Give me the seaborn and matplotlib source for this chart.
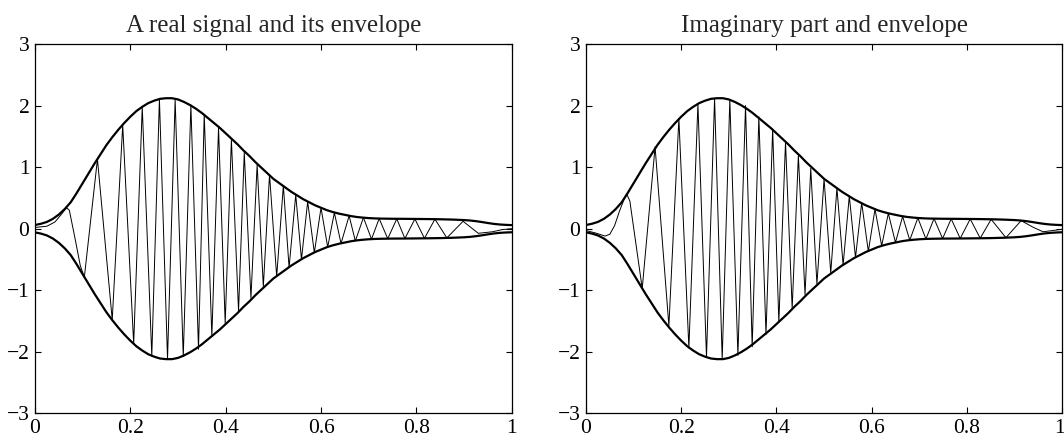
import pandas as pd
import seaborn as sns
import matplotlib.pyplot as plt
from matplotlib.transforms import ScaledTranslation

# envelope |analytic signal|
env_t = [0.0, 0.0125, 0.025, 0.0375, 0.05, 0.0625, 0.075, 0.0875, 0.1, 0.1125,
         0.125, 0.1375, 0.15, 0.1625, 0.175, 0.1875, 0.2, 0.2125, 0.225, 0.2375,
         0.25, 0.2625, 0.275, 0.2875, 0.3, 0.3125, 0.325, 0.3375, 0.35, 0.3625,
         0.375, 0.3875, 0.4, 0.4125, 0.425, 0.4375, 0.45, 0.4625, 0.475, 0.4875,
         0.5, 0.5125, 0.525, 0.5375, 0.55, 0.5625, 0.575, 0.5875, 0.6, 0.6125,
         0.625, 0.6375, 0.65, 0.6625, 0.675, 0.6875, 0.7, 0.7125, 0.725, 0.75,
         0.775, 0.8, 0.825, 0.85, 0.875, 0.9, 0.9125, 0.925, 0.9375, 0.95,
         0.9625, 0.975, 0.9875, 1.0]
env_v = [0.06, 0.08, 0.11, 0.16, 0.23, 0.32, 0.43, 0.58, 0.74, 0.90,
         1.06, 1.21, 1.36, 1.49, 1.61, 1.72, 1.82, 1.91, 1.98, 2.04,
         2.08, 2.11, 2.12, 2.12, 2.10, 2.06, 2.01, 1.95, 1.88, 1.80,
         1.72, 1.64, 1.55, 1.46, 1.37, 1.27, 1.18, 1.08, 0.99, 0.90,
         0.81, 0.74, 0.67, 0.60, 0.54, 0.48, 0.43, 0.38, 0.34, 0.30,
         0.27, 0.245, 0.225, 0.205, 0.19, 0.18, 0.172, 0.167, 0.164, 0.161,
         0.160, 0.158, 0.156, 0.153, 0.148, 0.14, 0.133, 0.122, 0.108, 0.092,
         0.078, 0.068, 0.062, 0.058]

# real part (extrema of the sampled signal)
re_t = [0.0, 0.025, 0.042, 0.056, 0.066, 0.072, 0.084, 0.095, 0.1035, 0.131, 0.162,
        0.184, 0.207, 0.225, 0.245, 0.261, 0.278, 0.294, 0.311, 0.327, 0.343, 0.355,
        0.371, 0.385, 0.399, 0.412, 0.427, 0.439, 0.453, 0.466, 0.479, 0.492, 0.507,
        0.521, 0.533, 0.547, 0.559, 0.572, 0.586, 0.600, 0.614, 0.628, 0.642, 0.659,
        0.672, 0.689, 0.706, 0.722, 0.740, 0.759, 0.776, 0.797, 0.817, 0.839, 0.864,
        0.898, 0.930, 0.960, 0.980, 1.0]
re_v = [0.02, 0.04, 0.11, 0.24, 0.34, 0.30, -0.16, -0.60, -0.79, 1.13, -1.48,
        1.68, -1.87, 1.98, -2.07, 2.11, -2.12, 2.10, -2.08, 2.01, -1.96, 1.86,
        -1.75, 1.64, -1.54, 1.45, -1.34, 1.24, -1.13, 1.04, -0.94, 0.88, -0.78,
        0.70, -0.63, 0.55, -0.50, 0.44, -0.39, 0.34, -0.30, 0.26, -0.24, 0.21,
        -0.20, 0.18, -0.17, 0.165, -0.163, 0.16, -0.16, 0.158, -0.157, 0.155, -0.15,
        0.12, -0.075, -0.05, -0.015, 0.0]

# imaginary part
im_t = [0.0, 0.02, 0.04, 0.05, 0.06, 0.07, 0.08, 0.0855, 0.092, 0.118, 0.145, 0.174,
        0.195, 0.216, 0.235, 0.253, 0.270, 0.286, 0.302, 0.319, 0.335, 0.349, 0.363,
        0.378, 0.392, 0.405, 0.419, 0.433, 0.446, 0.460, 0.472, 0.485, 0.500, 0.514,
        0.527, 0.540, 0.553, 0.566, 0.579, 0.593, 0.607, 0.621, 0.635, 0.650, 0.665,
        0.680, 0.697, 0.714, 0.731, 0.749, 0.767, 0.786, 0.807, 0.828, 0.851, 0.882,
        0.914, 0.940, 0.960, 0.980, 1.0]
im_v = [-0.03, -0.07, -0.12, -0.09, 0.05, 0.28, 0.48, 0.56, 0.45, -0.97, 1.33, -1.58,
        1.79, -1.94, 2.03, -2.09, 2.12, -2.12, 2.10, -2.06, 2.00, -1.92, 1.82,
        -1.72, 1.62, -1.52, 1.41, -1.30, 1.19, -1.07, 0.98, -0.90, 0.81, -0.72,
        0.66, -0.59, 0.53, -0.47, 0.42, -0.37, 0.32, -0.28, 0.25, -0.225, 0.20,
        -0.187, 0.175, -0.168, 0.164, -0.161, 0.16, -0.159, 0.157, -0.155, 0.152, -0.146,
        0.13, 0.02, -0.05, -0.03, -0.01]

titles = ["A real signal and its envelope", "Imaginary part and envelope"]

sns.set_theme(style="ticks")
plt.rcParams['font.family'] = ['Liberation Serif', 'DejaVu Serif']

fig = plt.figure(figsize=(10.64, 4.38), dpi=100)
ax1 = fig.add_axes([0.0329, 0.0564, 0.448, 0.843])
ax2 = fig.add_axes([0.5508, 0.0564, 0.4474, 0.843])

env = pd.DataFrame({'t': env_t, 'up': env_v, 'lo': [-v for v in env_v]})
sig = [pd.DataFrame({'t': re_t, 'v': re_v}), pd.DataFrame({'t': im_t, 'v': im_v})]

for ax, s, title in zip([ax1, ax2], sig, titles):
    sns.lineplot(data=s, x='t', y='v', ax=ax, color='black', lw=0.7,
                 estimator=None, sort=False)
    sns.lineplot(data=env, x='t', y='up', ax=ax, color='black', lw=1.6, estimator=None)
    sns.lineplot(data=env, x='t', y='lo', ax=ax, color='black', lw=1.6, estimator=None)
    ax.set_xlim(0, 1)
    ax.set_ylim(-3, 3)
    ax.set_xticks([0, 0.2, 0.4, 0.6, 0.8, 1])
    ax.set_xticklabels(['0', '0.2', '0.4', '0.6', '0.8', '1'])
    ax.set_yticks([-3, -2, -1, 0, 1, 2, 3])
    ax.set_yticklabels(['\u22123', '\u22122', '\u22121', '0', '1', '2', '3'])
    ax.tick_params(direction='in', top=True, right=True, length=4, width=0.8,
                   labelsize=15.5, colors='black', pad=4)
    for sp in ax.spines.values():
        sp.set_visible(True)
        sp.set_linewidth(0.9)
        sp.set_color('black')
    ax.set_xlabel('')
    ax.set_ylabel('')
    ax.set_title(title, fontsize=18, pad=9)

# keep the last "1" inside the canvas
lab = ax2.get_xticklabels()[-1]
lab.set_transform(lab.get_transform() + ScaledTranslation(-3 / 100, 0, fig.dpi_scale_trans))

fig.savefig('out.png', dpi=100)
